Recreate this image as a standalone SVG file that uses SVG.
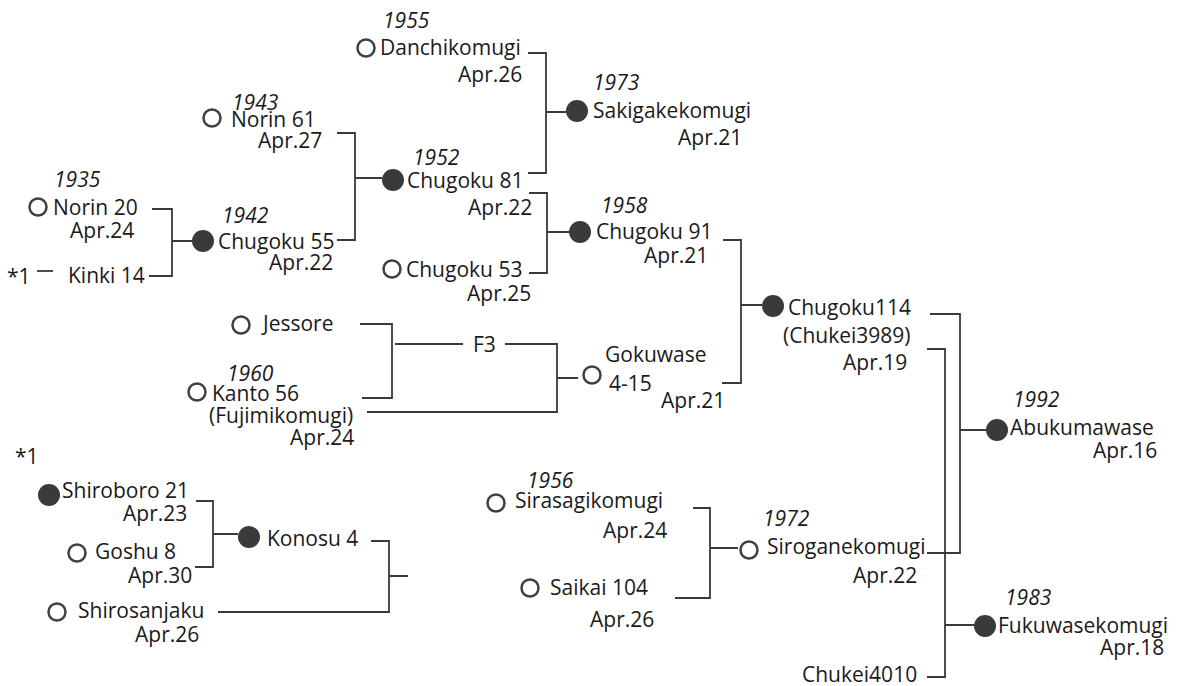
<svg xmlns="http://www.w3.org/2000/svg" width="1177" height="686" viewBox="0 0 1177 686">
<style>
text{font-family:"Open Sans","Liberation Sans",sans-serif;font-size:21px;fill:#1a1a1a}
.y{font-style:italic}
.o{fill:#fff;stroke:#404040;stroke-width:2.5}
.f{fill:#3a3a3a}
.c path{fill:none;stroke:#3a3a3a;stroke-width:1.8}
</style>
<rect width="1177" height="686" fill="#fff"/>
<g class="c" id="connectors">
<path d="M37,271H53"/>
<path d="M152,209H172V276H149M172,241H192"/>
<path d="M337,133H355V240H337M355,178H382"/>
<path d="M528,53H546V173H528M546,112H566"/>
<path d="M529,193H547V273H529M547,232H569"/>
<path d="M360,324H392V398H362M395,344H463"/>
<path d="M505,344H557V412H367M557,378H578"/>
<path d="M723,240H741V383H722M741,305H762"/>
<path d="M930,314H960V553H927M960,430H986"/>
<path d="M927,349H945V677H927M945,625H974"/>
<path d="M196,501H213V567H195M213,534H238"/>
<path d="M371,541H389V612H218M389,576H408"/>
<path d="M693,508H710V598H675M710,548H738"/>
</g>
<g id="norin20"><circle class="o" cx="38" cy="207" r="8.5"/><text class="y" x="54" y="187">1935</text><text x="53" y="215">Norin 20</text><text x="70" y="238">Apr.24</text></g>
<g id="kinki14"><text x="7" y="284">*1</text><text x="68" y="283">Kinki 14</text></g>
<g id="chugoku55"><circle class="f" cx="203" cy="241" r="11"/><text class="y" x="222" y="223">1942</text><text x="218" y="249">Chugoku 55</text><text x="269" y="270">Apr.22</text></g>
<g id="norin61"><circle class="o" cx="212" cy="118" r="8.5"/><text class="y" x="232" y="110">1943</text><text x="231" y="127">Norin 61</text><text x="258" y="148">Apr.27</text></g>
<g id="danchikomugi"><circle class="o" cx="366" cy="48" r="8.5"/><text class="y" x="383" y="28">1955</text><text x="380" y="55">Danchikomugi</text><text x="458" y="82">Apr.26</text></g>
<g id="chugoku81"><circle class="f" cx="393" cy="180" r="11"/><text class="y" x="413" y="165">1952</text><text x="407" y="188">Chugoku 81</text><text x="468" y="215">Apr.22</text></g>
<g id="sakigakekomugi"><circle class="f" cx="577" cy="111" r="11"/><text class="y" x="593" y="90">1973</text><text x="593" y="118">Sakigakekomugi</text><text x="678" y="145">Apr.21</text></g>
<g id="chugoku91"><circle class="f" cx="580" cy="232" r="11"/><text class="y" x="601" y="213">1958</text><text x="596" y="239">Chugoku 91</text><text x="644" y="263">Apr.21</text></g>
<g id="chugoku53"><circle class="o" cx="392" cy="269" r="8.5"/><text x="406" y="277">Chugoku 53</text><text x="467" y="301">Apr.25</text></g>
<g id="jessore"><circle class="o" cx="241" cy="325" r="8.5"/><text x="263" y="331">Jessore</text></g>
<g id="kanto56"><circle class="o" cx="197" cy="392" r="8.5"/><text class="y" x="227" y="381">1960</text><text x="212" y="401">Kanto 56</text><text x="209" y="423">(Fujimikomugi)</text><text x="290" y="445">Apr.24</text></g>
<g id="f3"><text x="473" y="352">F3</text></g>
<g id="gokuwase"><circle class="o" cx="592" cy="375" r="8.5"/><text x="605" y="362">Gokuwase</text><text x="609" y="391">4-15</text><text x="661" y="408">Apr.21</text></g>
<g id="chugoku114"><circle class="f" cx="773" cy="306" r="11"/><text x="788" y="315">Chugoku114</text><text x="783" y="343">(Chukei3989)</text><text x="843" y="370">Apr.19</text></g>
<g id="abukumawase"><circle class="f" cx="997" cy="430" r="11"/><text class="y" x="1013" y="407">1992</text><text x="1010" y="435">Abukumawase</text><text x="1093" y="458">Apr.16</text></g>
<g id="note1"><text x="15" y="464">*1</text></g>
<g id="shiroboro21"><circle class="f" cx="49" cy="495" r="11"/><text x="62" y="498">Shiroboro 21</text><text x="123" y="521">Apr.23</text></g>
<g id="goshu8"><circle class="o" cx="77" cy="553" r="8.5"/><text x="95" y="559">Goshu 8</text><text x="128" y="583">Apr.30</text></g>
<g id="konosu4"><circle class="f" cx="249" cy="537" r="11"/><text x="267" y="546">Konosu 4</text></g>
<g id="shirosanjaku"><circle class="o" cx="57" cy="612" r="8.5"/><text x="78" y="618">Shirosanjaku</text><text x="135" y="642">Apr.26</text></g>
<g id="sirasagikomugi"><circle class="o" cx="496" cy="503" r="8.5"/><text class="y" x="527" y="488">1956</text><text x="515" y="508">Sirasagikomugi</text><text x="603" y="538">Apr.24</text></g>
<g id="saikai104"><circle class="o" cx="530" cy="588" r="8.5"/><text x="550" y="595">Saikai 104</text><text x="590" y="627">Apr.26</text></g>
<g id="siroganekomugi"><circle class="o" cx="749" cy="550" r="8.5"/><text class="y" x="763" y="526">1972</text><text x="767" y="554">Siroganekomugi</text><text x="853" y="583">Apr.22</text></g>
<g id="fukuwasekomugi"><circle class="f" cx="985" cy="626" r="11"/><text class="y" x="1005" y="605">1983</text><text x="998" y="633">Fukuwasekomugi</text><text x="1100" y="655">Apr.18</text></g>
<g id="chukei4010"><text x="802" y="682">Chukei4010</text></g>
</svg>
